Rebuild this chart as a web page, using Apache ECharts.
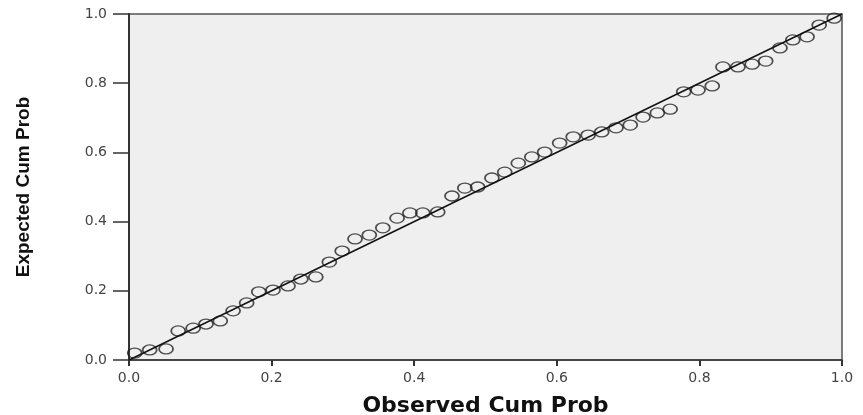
<!DOCTYPE html>
<html lang="en">
<head>
    <meta charset="UTF-8">
    <title>P-P Plot</title>
    <script src="https://cdn.jsdelivr.net/npm/echarts@6/dist/echarts.min.js"></script>
    <style>
        html, body { margin: 0; padding: 0; background: #fff; }
        #main { width: 863px; height: 415px; }
    </style>
</head>
<body>
<div id="main"></div>
<script type="text/javascript">
    // observed cumulative probability (x)
    var observed = [0.008, 0.029, 0.052, 0.069, 0.090, 0.108, 0.128, 0.146, 0.165, 0.182,
        0.202, 0.223, 0.241, 0.262, 0.281, 0.299, 0.317, 0.337, 0.356, 0.376,
        0.394, 0.412, 0.433, 0.453, 0.471, 0.489, 0.509, 0.527, 0.546, 0.565,
        0.583, 0.604, 0.623, 0.644, 0.663, 0.683, 0.703, 0.721, 0.741, 0.759,
        0.778, 0.798, 0.818, 0.833, 0.854, 0.874, 0.893, 0.913, 0.931, 0.951,
        0.968, 0.989];
    // expected cumulative probability (y)
    var expected = [0.020, 0.029, 0.032, 0.084, 0.092, 0.104, 0.113, 0.142, 0.165, 0.197,
        0.202, 0.214, 0.234, 0.240, 0.283, 0.315, 0.350, 0.361, 0.382, 0.410,
        0.425, 0.425, 0.428, 0.474, 0.497, 0.500, 0.526, 0.543, 0.569, 0.587,
        0.601, 0.627, 0.645, 0.650, 0.659, 0.671, 0.679, 0.702, 0.714, 0.725,
        0.775, 0.780, 0.792, 0.847, 0.847, 0.855, 0.864, 0.902, 0.925, 0.934,
        0.968, 0.988];
    // diagonal reference line
    var refLine = [[0, 0], [1, 1]];

    var points = [];
    for (var i = 0; i < observed.length; i++) {
        points.push([observed[i], expected[i]]);
    }

    var myChart = echarts.init(document.getElementById('main'));
    myChart.setOption({
        animation: false,
        grid: {
            left: 129, right: 21, top: 14, bottom: 55,
            outerBoundsMode: 'none',
            show: true,
            backgroundColor: '#efefef',
            borderColor: '#555',
            borderWidth: 1.5
        },
        xAxis: {
            type: 'value',
            min: 0, max: 1, interval: 0.2,
            name: 'Observed Cum Prob',
            nameLocation: 'middle',
            nameGap: 35,
            nameTextStyle: {
                fontFamily: 'DejaVu Sans',
                fontWeight: 'bold',
                fontSize: 22,
                color: '#111'
            },
            axisLine: { show: true, lineStyle: { color: '#333', width: 1.5 } },
            axisTick: { show: true, length: 6, lineStyle: { color: '#333', width: 2 } },
            axisLabel: {
                margin: 11,
                fontFamily: 'DejaVu Sans',
                fontSize: 14,
                color: '#444',
                formatter: function (v) { return v.toFixed(1); }
            },
            splitLine: { show: false }
        },
        yAxis: {
            type: 'value',
            min: 0, max: 1, interval: 0.2,
            name: 'Expected Cum Prob',
            nameLocation: 'middle',
            nameRotate: 90,
            nameGap: 96,
            nameTextStyle: {
                fontFamily: "'Liberation Sans Narrow', 'Liberation Sans'",
                fontWeight: 'bold',
                fontSize: 19,
                color: '#111'
            },
            axisLine: { show: true, lineStyle: { color: '#333', width: 2 } },
            axisTick: { show: true, length: 16, lineStyle: { color: '#333', width: 1.5 } },
            axisLabel: {
                margin: 22,
                fontFamily: 'DejaVu Sans',
                fontSize: 14,
                color: '#444',
                formatter: function (v) { return v.toFixed(1); }
            },
            splitLine: { show: false }
        },
        series: [
            {
                type: 'scatter',
                data: points,
                symbol: 'circle',
                symbolSize: [14, 10],
                itemStyle: { color: 'rgba(0,0,0,0)', borderColor: '#222', borderWidth: 1.5 },
                z: 2
            },
            {
                type: 'line',
                data: refLine,
                symbol: 'none',
                lineStyle: { color: '#111', width: 1.5 },
                z: 3
            }
        ]
    });
</script>
</body>
</html>
